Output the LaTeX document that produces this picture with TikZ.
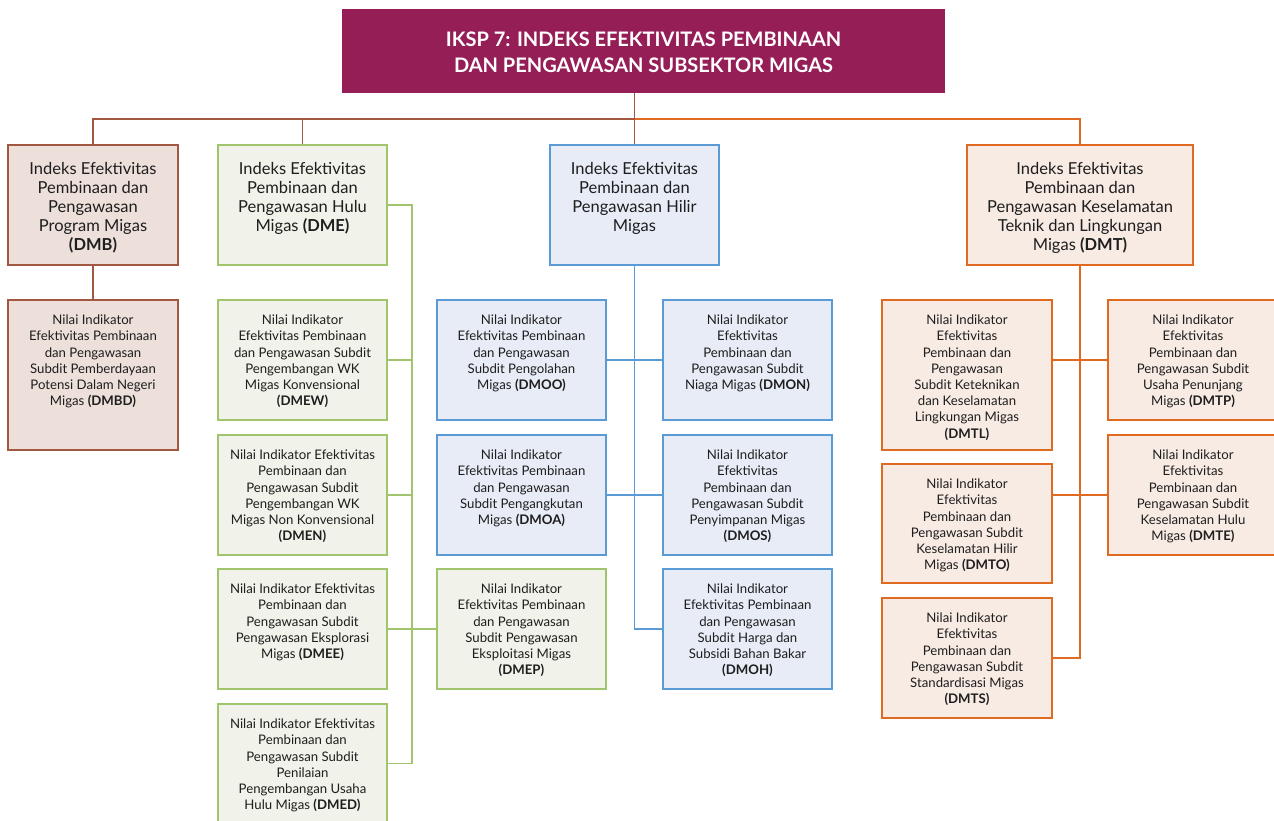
\documentclass[tikz,border=0pt]{standalone}
\usepackage{fontspec}
\setmainfont{Lato}
\definecolor{titlefill}{RGB}{149,30,87}
\definecolor{brownln}{RGB}{162,88,64}
\definecolor{brownfill}{RGB}{237,224,218}
\definecolor{greenln}{RGB}{160,197,108}
\definecolor{greenfill}{RGB}{241,242,233}
\definecolor{blueln}{RGB}{91,155,213}
\definecolor{bluefill}{RGB}{232,236,247}
\definecolor{orangeln}{RGB}{224,106,34}
\definecolor{orangefill}{RGB}{248,235,228}
\definecolor{txtcol}{RGB}{30,30,30}
\tikzset{
  basebox/.style={rectangle, line width=1.5pt, inner sep=0pt},
  brownbox/.style={basebox, draw=brownln, fill=brownfill},
  greenbox/.style={basebox, draw=greenln, fill=greenfill},
  bluebox/.style={basebox, draw=blueln, fill=bluefill},
  orangebox/.style={basebox, draw=orangeln, fill=orangefill},
  headtxt/.style={align=center, inner sep=0pt, text=txtcol, font=\fontsize{16.5}{19}\selectfont, yshift=-18pt},
  leaftxt/.style={align=center, inner sep=0pt, text=txtcol, font=\fontsize{13.2}{16.2}\selectfont, yshift=-15.5pt},
  conn/.style={line width=1.5pt},
}
\newcommand\orgbox[8]{%
  \node[#2, minimum width={#6-#4}, minimum height={#7-#5}] (#1) at ({(#4+#6)/2},{(#5+#7)/2}) {};
  \node[#3, anchor=north] (#1t) at (#1.north) {#8};
}
\begin{document}
\begin{tikzpicture}[x=1pt,y=-1pt]
\clip (0,0) rectangle (1274,821);
\fill[white] (0,0) rectangle (1274,821);

% title
\node[rectangle, fill=titlefill, minimum width=603, minimum height=84, inner sep=0pt] (title) at (643.5,51) {};
\node[align=center, text=white, font=\bfseries\fontsize{20}{26}\selectfont] (titlet) at ([yshift=-1pt]title.center) {IKSP 7: INDEKS EFEKTIVITAS PEMBINAAN\\DAN PENGAWASAN SUBSEKTOR MIGAS};

% level 1
\orgbox{dmb}{brownbox}{headtxt}{8}{145}{178}{265}{Indeks Efektivitas\\Pembinaan dan\\Pengawasan\\Program Migas\\\textbf{(DMB)}}
\orgbox{dme}{greenbox}{headtxt}{218}{145}{387}{265}{Indeks Efektivitas\\Pembinaan dan\\Pengawasan Hulu\\Migas \textbf{(DME)}}
\orgbox{hilir}{bluebox}{headtxt}{550}{145}{719}{265}{Indeks Efektivitas\\Pembinaan dan\\Pengawasan Hilir\\Migas}
\orgbox{dmt}{orangebox}{headtxt}{967}{145}{1193}{265}{Indeks Efektivitas\\Pembinaan dan\\Pengawasan Keselamatan\\Teknik dan Lingkungan\\Migas \textbf{(DMT)}}

% DMB branch
\orgbox{dmbd}{brownbox}{leaftxt}{8}{300}{178}{450}{Nilai Indikator\\Efektivitas Pembinaan\\dan Pengawasan\\Subdit Pemberdayaan\\Potensi Dalam Negeri\\Migas \textbf{(DMBD)}}

% DME branch
\orgbox{dmew}{greenbox}{leaftxt}{218}{300}{387}{420}{Nilai Indikator\\Efektivitas Pembinaan\\dan Pengawasan Subdit\\Pengembangan WK\\Migas Konvensional\\\textbf{(DMEW)}}
\orgbox{dmen}{greenbox}{leaftxt}{218}{435}{387}{555}{Nilai Indikator Efektivitas\\Pembinaan dan\\Pengawasan Subdit\\Pengembangan WK\\Migas Non Konvensional\\\textbf{(DMEN)}}
\orgbox{dmee}{greenbox}{leaftxt}{218}{569}{387}{689}{Nilai Indikator Efektivitas\\Pembinaan dan\\Pengawasan Subdit\\Pengawasan Eksplorasi\\Migas \textbf{(DMEE)}}
\orgbox{dmed}{greenbox}{leaftxt}{218}{704}{387}{823}{Nilai Indikator Efektivitas\\Pembinaan dan\\Pengawasan Subdit\\Penilaian\\Pengembangan Usaha\\Hulu Migas \textbf{(DMED)}}
\orgbox{dmep}{greenbox}{leaftxt}{437}{569}{606}{689}{Nilai Indikator\\Efektivitas Pembinaan\\dan Pengawasan\\Subdit Pengawasan\\Eksploitasi Migas\\\textbf{(DMEP)}}

% Hilir branch
\orgbox{dmoo}{bluebox}{leaftxt}{437}{300}{606}{420}{Nilai Indikator\\Efektivitas Pembinaan\\dan Pengawasan\\Subdit Pengolahan\\Migas \textbf{(DMOO)}}
\orgbox{dmon}{bluebox}{leaftxt}{663}{300}{832}{420}{Nilai Indikator\\Efektivitas\\Pembinaan dan\\Pengawasan Subdit\\Niaga Migas \textbf{(DMON)}}
\orgbox{dmoa}{bluebox}{leaftxt}{437}{435}{606}{555}{Nilai Indikator\\Efektivitas Pembinaan\\dan Pengawasan\\Subdit Pengangkutan\\Migas \textbf{(DMOA)}}
\orgbox{dmos}{bluebox}{leaftxt}{663}{435}{832}{555}{Nilai Indikator\\Efektivitas\\Pembinaan dan\\Pengawasan Subdit\\Penyimpanan Migas\\\textbf{(DMOS)}}
\orgbox{dmoh}{bluebox}{leaftxt}{663}{569}{832}{689}{Nilai Indikator\\Efektivitas Pembinaan\\dan Pengawasan\\Subdit Harga dan\\Subsidi Bahan Bakar\\\textbf{(DMOH)}}

% DMT branch
\orgbox{dmtl}{orangebox}{leaftxt}{882}{300}{1052}{450}{Nilai Indikator\\Efektivitas\\Pembinaan dan\\Pengawasan\\Subdit Keteknikan\\dan Keselamatan\\Lingkungan Migas\\\textbf{(DMTL)}}
\orgbox{dmtp}{orangebox}{leaftxt}{1108}{300}{1278}{420}{Nilai Indikator\\Efektivitas\\Pembinaan dan\\Pengawasan Subdit\\Usaha Penunjang\\Migas \textbf{(DMTP)}}
\orgbox{dmto}{orangebox}{leaftxt}{882}{464}{1052}{583}{Nilai Indikator\\Efektivitas\\Pembinaan dan\\Pengawasan Subdit\\Keselamatan Hilir\\Migas \textbf{(DMTO)}}
\orgbox{dmte}{orangebox}{leaftxt}{1108}{435}{1278}{555}{Nilai Indikator\\Efektivitas\\Pembinaan dan\\Pengawasan Subdit\\Keselamatan Hulu\\Migas \textbf{(DMTE)}}
\orgbox{dmts}{orangebox}{leaftxt}{882}{598}{1052}{718}{Nilai Indikator\\Efektivitas\\Pembinaan dan\\Pengawasan Subdit\\Standardisasi Migas\\\textbf{(DMTS)}}

% connectors
\coordinate (bus) at (634.5,119);
\coordinate (gx) at (412,205);
\draw[conn, brownln] (title.south -| hilir.north) -- (hilir.north);
\draw[conn, brownln] (dmb.north) |- (bus);
\draw[conn, brownln] (dme.north) -- (dme.north |- bus);
\draw[conn, orangeln] (dmt.north) |- (bus);
\draw[conn, brownln] (dmb.south) -- (dmbd.north);

\draw[conn, greenln] (dme.east) -- (gx) -- (gx |- dmed.east) -- (dmed.east);
\draw[conn, greenln] (dmew.east) -- (dmew.east -| gx);
\draw[conn, greenln] (dmen.east) -- (dmen.east -| gx);
\draw[conn, greenln] (dmee.east) -- (dmep.west);

\draw[conn, blueln] (hilir.south) -- (hilir.south |- dmoh.west) -- (dmoh.west);
\draw[conn, blueln] (dmoo.east) -- (dmon.west);
\draw[conn, blueln] (dmoa.east) -- (dmos.west);

\draw[conn, orangeln] (dmt.south) -- (dmt.south |- dmts.east) -- (dmts.east);
\draw[conn, orangeln] (dmtp.west) -- (dmtp.west -| dmtl.east);
\draw[conn, orangeln] (dmte.west) -- (dmte.west -| dmto.east);
\end{tikzpicture}
\end{document}
